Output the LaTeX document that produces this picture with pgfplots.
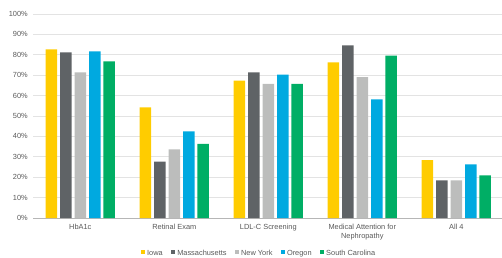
\documentclass[border=0pt]{standalone}
\usepackage{fontspec}
\setmainfont{Liberation Sans}
\usepackage{pgfplots}
\pgfplotsset{compat=1.18}
\definecolor{cIowa}{HTML}{FFCC00}
\definecolor{cMass}{HTML}{5F6366}
\definecolor{cNY}{HTML}{BCBDBC}
\definecolor{cOR}{HTML}{00A9E0}
\definecolor{cSC}{HTML}{00AE65}
\definecolor{txt}{HTML}{595959}
\definecolor{grid}{HTML}{E3E3E3}
\begin{document}
\begin{tikzpicture}
\useasboundingbox (0,0) rectangle (502pt,257pt);
\begin{axis}[
  at={(33.3pt,39pt)}, anchor=south west,
  scale only axis, width=470pt, height=204pt,
  ybar=2.95pt, bar width=11.5pt,
  xmin=-0.5, xmax=4.5, ymin=0, ymax=100,
  xtick={0,1,2,3,4},
  xticklabels={HbA1c, Retinal Exam, LDL-C Screening, {Medical Attention for\\Nephropathy}, All 4},
  ytick={0,10,...,100},
  yticklabel={\pgfmathprintnumber{\tick}\%},
  /pgf/number format/assume math mode=true,
  major tick length=0pt,
  ymajorgrids, grid style={draw=grid, line width=0.8pt},
  axis x line*=bottom, axis y line*=left,
  x axis line style={draw=grid!80!black, line width=0.8pt, -},
  y axis line style={draw=none},
  tick label style={font=\fontsize{7.4}{9}\selectfont, text=txt},
  xticklabel style={align=center, yshift=-3pt},
  yticklabel style={xshift=-2pt},
  legend style={at={(0.48,-0.172)}, anchor=center, draw=none, fill=none,
    font=\fontsize{7.4}{9}\selectfont, text=txt, legend columns=5,
    nodes={text height=5.4pt, text depth=1.5pt},
    /tikz/every even column/.append style={column sep=6pt}},
  legend image code/.code={\fill[#1] (0pt,-1.0pt) rectangle (4.5pt,3.5pt);},
  legend cell align=left,
]
\addplot[fill=cIowa, draw=none] coordinates {(0,82.7) (1,54.2) (2,67.3) (3,76.3) (4,28.4)};
\addplot[fill=cMass, draw=none] coordinates {(0,81.2) (1,27.6) (2,71.4) (3,84.6) (4,18.5)};
\addplot[fill=cNY, draw=none] coordinates {(0,71.4) (1,33.7) (2,65.8) (3,69.1) (4,18.5)};
\addplot[fill=cOR, draw=none] coordinates {(0,81.7) (1,42.5) (2,70.3) (3,58.2) (4,26.3)};
\addplot[fill=cSC, draw=none] coordinates {(0,76.8) (1,36.3) (2,65.8) (3,79.6) (4,20.9)};
\legend{Iowa, Massachusetts, New York, Oregon, South Carolina}
\end{axis}
\end{tikzpicture}
\end{document}
